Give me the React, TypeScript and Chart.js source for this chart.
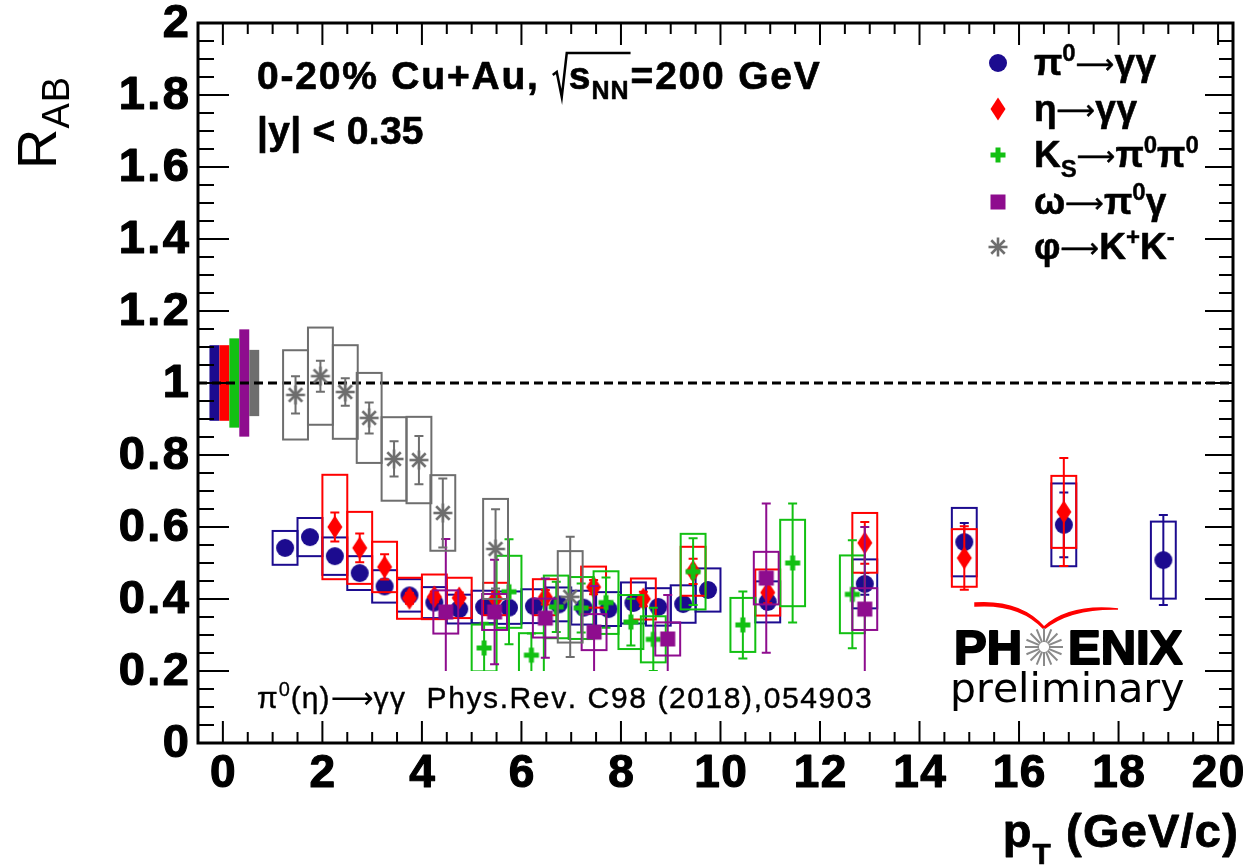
import React, { useEffect, useRef } from 'react';
import Chart from 'chart.js/auto';

const W = 1243;
const H = 866;
const SANS = '"Liberation Sans", Arial, Helvetica, sans-serif';
const WIDE = '"DejaVu Sans", "Liberation Sans", sans-serif';

// Axis ranges and tick labels
const xRange = [-0.5, 20.3];
const yRange = [0, 2];
const xTickValues = [0, 2, 4, 6, 8, 10, 12, 14, 16, 18, 20];
const xTickLabels = ['0', '2', '4', '6', '8', '10', '12', '14', '16', '18', '20'];
const yTickValues = [0, 0.2, 0.4, 0.6, 0.8, 1, 1.2, 1.4, 1.6, 1.8, 2];
const yTickLabels = ['0', '0.2', '0.4', '0.6', '0.8', '1', '1.2', '1.4', '1.6', '1.8', '2'];

// π0 → γγ
const pi0Pt = [1.25, 1.75, 2.25, 2.75, 3.25, 3.75, 4.25, 4.75, 5.25, 5.75, 6.25, 6.75, 7.25, 7.75, 8.25, 8.75, 9.25, 9.75, 10.95, 12.9, 14.9, 16.9, 18.9];
const pi0Raa = [0.542, 0.572, 0.519, 0.472, 0.435, 0.41, 0.39, 0.372, 0.378, 0.376, 0.38, 0.385, 0.376, 0.372, 0.389, 0.378, 0.386, 0.425, 0.392, 0.442, 0.558, 0.606, 0.508];
const pi0Stat = [0.01, 0.01, 0.01, 0.01, 0.01, 0.01, 0.01, 0.01, 0.01, 0.01, 0.01, 0.01, 0.01, 0.012, 0.012, 0.013, 0.015, 0.018, 0.02, 0.03, 0.053, 0.09, 0.125];
const pi0Sys = [0.047, 0.053, 0.052, 0.047, 0.045, 0.045, 0.043, 0.04, 0.045, 0.045, 0.047, 0.047, 0.047, 0.047, 0.057, 0.052, 0.052, 0.06, 0.057, 0.068, 0.095, 0.115, 0.107];

// η → γγ
const etaPt = [2.25, 2.75, 3.25, 3.75, 4.25, 4.75, 5.48, 6.48, 7.45, 8.45, 9.45, 10.95, 12.9, 14.9, 16.9];
const etaRaa = [0.6, 0.542, 0.489, 0.402, 0.406, 0.403, 0.4, 0.405, 0.433, 0.4, 0.477, 0.418, 0.556, 0.514, 0.642];
const etaStat = [0.04, 0.04, 0.035, 0.015, 0.015, 0.015, 0.02, 0.02, 0.02, 0.02, 0.035, 0.03, 0.058, 0.088, 0.15];
const etaSys = [0.145, 0.1, 0.07, 0.057, 0.062, 0.056, 0.045, 0.05, 0.057, 0.057, 0.068, 0.064, 0.083, 0.08, 0.1];

// K_S → π0π0
const ksPt = [5.25, 5.75, 6.2, 6.7, 7.2, 7.7, 8.2, 8.65, 9.45, 10.45, 11.45, 12.65];
const ksRaa = [0.264, 0.42, 0.244, 0.378, 0.375, 0.39, 0.336, 0.288, 0.476, 0.328, 0.5, 0.413];
const ksStat = [0.07, 0.146, 0.06, 0.07, 0.068, 0.07, 0.065, 0.088, 0.093, 0.093, 0.165, 0.15];
const ksSys = [0.065, 0.1, 0.061, 0.087, 0.086, 0.087, 0.075, 0.064, 0.105, 0.075, 0.12, 0.108];

// ω → π0γ
const omegaPt = [4.48, 5.46, 6.48, 7.46, 8.94, 10.92, 12.9];
const omegaRaa = [0.364, 0.364, 0.347, 0.308, 0.289, 0.458, 0.372];
const omegaStat = [0.203, 0.145, 0.11, 0.128, 0.122, 0.207, 0.228];
const omegaSys = [0.06, 0.05, 0.054, 0.05, 0.046, 0.073, 0.058];

// φ → K+K-
const phiPt = [1.46, 1.96, 2.46, 2.94, 3.44, 3.94, 4.42, 5.48, 6.98];
const phiRaa = [0.967, 1.019, 0.975, 0.903, 0.789, 0.786, 0.639, 0.539, 0.406];
const phiStat = [0.052, 0.043, 0.038, 0.043, 0.049, 0.067, 0.096, 0.11, 0.167];
const phiSys = [0.124, 0.135, 0.13, 0.125, 0.116, 0.12, 0.105, 0.139, 0.127];

// Global (normalisation) uncertainties drawn at R_AB = 1
const normCenters = [-0.17, 0.03, 0.23, 0.43, 0.63];
const normHalf = [0.105, 0.105, 0.124, 0.149, 0.092];

const NAVY = '#1c0b8f';
const RED = '#ff0000';
const GREEN = '#12c012';
const PURPLE = '#8e0c8e';
const GRAY = '#6e6e6e';
const normColors = [NAVY, RED, GREEN, PURPLE, GRAY];

const BOX_HALF = 0.25; // half width of systematic boxes in GeV/c
const CLIP_FLOOR = 0.2; // error bars and boxes are drawn down to this R_AB

type Kind = 'circle' | 'diamond' | 'cross' | 'square' | 'star';

function makeMarker(kind: Kind, color: string): HTMLCanvasElement {
  const c = document.createElement('canvas');
  const s = 26;
  c.width = s;
  c.height = s;
  const g = c.getContext('2d')!;
  const m = s / 2;
  g.fillStyle = color;
  g.strokeStyle = color;
  if (kind === 'circle') {
    g.beginPath();
    g.arc(m, m, 9, 0, Math.PI * 2);
    g.fill();
  } else if (kind === 'diamond') {
    g.beginPath();
    g.moveTo(m, m - 11.5);
    g.lineTo(m + 7.5, m);
    g.lineTo(m, m + 11.5);
    g.lineTo(m - 7.5, m);
    g.closePath();
    g.fill();
  } else if (kind === 'cross') {
    g.fillRect(m - 7.5, m - 2.5, 15, 5);
    g.fillRect(m - 2.5, m - 7.5, 5, 15);
  } else if (kind === 'square') {
    g.fillRect(m - 7.5, m - 7.5, 15, 15);
  } else {
    g.lineWidth = 2.6;
    const r = 9.5;
    for (let k = 0; k < 4; k++) {
      const a = (k * Math.PI) / 4;
      g.beginPath();
      g.moveTo(m - r * Math.cos(a), m - r * Math.sin(a));
      g.lineTo(m + r * Math.cos(a), m + r * Math.sin(a));
      g.stroke();
    }
  }
  return c;
}

type Series = {
  x: number[];
  y: number[];
  stat: number[];
  sys: number[];
  color: string;
  kind: Kind;
};

const series: Series[] = [
  { x: pi0Pt, y: pi0Raa, stat: pi0Stat, sys: pi0Sys, color: NAVY, kind: 'circle' },
  { x: etaPt, y: etaRaa, stat: etaStat, sys: etaSys, color: RED, kind: 'diamond' },
  { x: ksPt, y: ksRaa, stat: ksStat, sys: ksSys, color: GREEN, kind: 'cross' },
  { x: omegaPt, y: omegaRaa, stat: omegaStat, sys: omegaSys, color: PURPLE, kind: 'square' },
  { x: phiPt, y: phiRaa, stat: phiStat, sys: phiSys, color: GRAY, kind: 'star' },
];

type Run = { t: string; size: number; bold?: boolean; dy?: number; family?: string; sp?: number; heavy?: number };

function drawRuns(ctx: CanvasRenderingContext2D, runs: Run[], x: number, y: number): number {
  let cx = x;
  for (const r of runs) {
    ctx.font = `${r.bold ? 'bold ' : ''}${r.size}px ${r.family ?? SANS}`;
    const sp = r.sp ?? 0;
    for (const ch of Array.from(r.t)) {
      ctx.fillText(ch, cx, y + (r.dy ?? 0));
      if (r.heavy) {
        ctx.save();
        ctx.strokeStyle = ctx.fillStyle as string;
        ctx.lineWidth = r.heavy;
        ctx.lineJoin = 'round';
        ctx.strokeText(ch, cx, y + (r.dy ?? 0));
        ctx.restore();
      }
      cx += ctx.measureText(ch).width + sp;
    }
  }
  return cx;
}

function runsWidth(ctx: CanvasRenderingContext2D, runs: Run[]): number {
  let w = 0;
  for (const r of runs) {
    ctx.font = `${r.bold ? 'bold ' : ''}${r.size}px ${r.family ?? SANS}`;
    const chars = Array.from(r.t);
    for (const ch of chars) w += ctx.measureText(ch).width + (r.sp ?? 0);
  }
  return w;
}

const errorPlugin = {
  id: 'errorBoxes',
  beforeDatasetDraw(chart: any, args: any) {
    const s = series[args.index];
    if (!s) return;
    const { ctx, chartArea, scales } = chart;
    const xs = scales.x;
    const ys = scales.y;
    ctx.save();
    const floor = ys.getPixelForValue(CLIP_FLOOR);
    ctx.beginPath();
    ctx.rect(chartArea.left, chartArea.top, chartArea.right - chartArea.left, floor - chartArea.top);
    ctx.clip();
    ctx.strokeStyle = s.color;
    ctx.lineWidth = 2;
    for (let i = 0; i < s.x.length; i++) {
      const l = xs.getPixelForValue(s.x[i] - BOX_HALF);
      const r = xs.getPixelForValue(s.x[i] + BOX_HALF);
      const t = ys.getPixelForValue(s.y[i] + s.sys[i]);
      const b = ys.getPixelForValue(s.y[i] - s.sys[i]);
      ctx.strokeRect(l, t, r - l, b - t);
    }
    for (let i = 0; i < s.x.length; i++) {
      const px = xs.getPixelForValue(s.x[i]);
      const et = ys.getPixelForValue(s.y[i] + s.stat[i]);
      const eb = ys.getPixelForValue(s.y[i] - s.stat[i]);
      ctx.beginPath();
      ctx.moveTo(px, et);
      ctx.lineTo(px, eb);
      ctx.moveTo(px - 4.5, et);
      ctx.lineTo(px + 4.5, et);
      ctx.moveTo(px - 4.5, eb);
      ctx.lineTo(px + 4.5, eb);
      ctx.stroke();
    }
    ctx.restore();
  },
};

const framePlugin = {
  id: 'rootFrame',
  beforeDatasetsDraw(chart: any) {
    const { ctx, chartArea, scales } = chart;
    const xs = scales.x;
    const ys = scales.y;
    ctx.save();
    // global normalisation bars
    for (let i = 0; i < normCenters.length; i++) {
      const l = xs.getPixelForValue(normCenters[i] - 0.1);
      const r = xs.getPixelForValue(normCenters[i] + 0.1);
      const t = ys.getPixelForValue(1 + normHalf[i]);
      const b = ys.getPixelForValue(1 - normHalf[i]);
      ctx.fillStyle = normColors[i];
      ctx.fillRect(l, t, r - l, b - t);
    }
    // reference line at unity
    const y1 = ys.getPixelForValue(1);
    ctx.strokeStyle = '#000';
    ctx.lineWidth = 3;
    ctx.setLineDash([9, 5]);
    ctx.beginPath();
    ctx.moveTo(chartArea.left, y1);
    ctx.lineTo(chartArea.right, y1);
    ctx.stroke();
    ctx.restore();
  },
  afterDraw(chart: any) {
    const { ctx, chartArea, scales } = chart;
    const xs = scales.x;
    const ys = scales.y;
    const { left, right, top, bottom } = chartArea;
    ctx.save();
    ctx.fillStyle = '#000';
    ctx.strokeStyle = '#000';

    // ticks
    ctx.lineWidth = 2;
    ctx.beginPath();
    for (let i = 0; i < yTickValues.length; i++) {
      const v0 = yTickValues[i];
      const py = ys.getPixelForValue(v0);
      ctx.moveTo(left, py);
      ctx.lineTo(left + 31, py);
      ctx.moveTo(right, py);
      ctx.lineTo(right - 28, py);
      if (i < yTickValues.length - 1) {
        const step = (yTickValues[i + 1] - v0) / 4;
        for (let k = 1; k < 4; k++) {
          const pm = ys.getPixelForValue(v0 + k * step);
          ctx.moveTo(left, pm);
          ctx.lineTo(left + 16, pm);
          ctx.moveTo(right, pm);
          ctx.lineTo(right - 14, pm);
        }
      }
    }
    const xMinor: number[] = [];
    for (let i = 0; i < xTickValues.length; i++) {
      const v0 = xTickValues[i];
      const px = xs.getPixelForValue(v0);
      ctx.moveTo(px, bottom);
      ctx.lineTo(px, bottom - 22);
      ctx.moveTo(px, top);
      ctx.lineTo(px, top + 22);
      const step = 0.5;
      xMinor.push(v0 - step, v0 + step, v0 + 2 * step, v0 + 3 * step);
    }
    for (const v of xMinor) {
      if (v <= xRange[0] || v >= xRange[1] || xTickValues.includes(v)) continue;
      const px = xs.getPixelForValue(v);
      ctx.moveTo(px, bottom);
      ctx.lineTo(px, bottom - 11);
      ctx.moveTo(px, top);
      ctx.lineTo(px, top + 11);
    }
    ctx.stroke();

    // frame
    ctx.lineWidth = 3;
    ctx.strokeRect(left, top, right - left, bottom - top);

    // tick labels
    ctx.textBaseline = 'middle';
    for (let i = 0; i < yTickValues.length; i++) {
      const py = ys.getPixelForValue(yTickValues[i]);
      const runs: Run[] = [{ t: yTickLabels[i], size: 47, bold: true, sp: 2.5, heavy: 1.2 }];
      const w = runsWidth(ctx, runs) - 2.5;
      drawRuns(ctx, runs, 189 - w, py + 1);
    }
    for (let i = 0; i < xTickValues.length; i++) {
      const px = xs.getPixelForValue(xTickValues[i]);
      const runs: Run[] = [{ t: xTickLabels[i], size: 46, bold: true, sp: 1.5, heavy: 1.2 }];
      const w = runsWidth(ctx, runs) - 1.5;
      drawRuns(ctx, runs, px - w / 2, 774);
    }

    ctx.textBaseline = 'alphabetic';
    // x axis title
    {
      const runs: Run[] = [
        { t: 'p', size: 47, bold: true, sp: 1, heavy: 0.8 },
        { t: 'T', size: 30, bold: true, dy: 17, sp: 1, heavy: 0.6 },
        { t: ' (GeV/c)', size: 47, bold: true, sp: 1.2, heavy: 0.8 },
      ];
      const w = runsWidth(ctx, runs);
      drawRuns(ctx, runs, 1239 - w, 847);
    }
    // y axis title, rotated
    {
      ctx.save();
      ctx.translate(56, 169);
      ctx.rotate(-Math.PI / 2);
      drawRuns(ctx, [{ t: 'R', size: 56 }, { t: 'AB', size: 38, dy: 13, sp: 1 }], 0, 0);
      ctx.restore();
    }

    // collision system
    {
      let cx = drawRuns(ctx, [{ t: '0-20% Cu+Au,', size: 39, bold: true, sp: 1.8, heavy: 0.7 }], 257, 89);
      cx += 13;
      ctx.lineWidth = 2.5;
      ctx.beginPath();
      ctx.moveTo(cx, 75);
      ctx.lineTo(cx + 4, 72);
      ctx.lineTo(cx + 9, 97);
      ctx.lineTo(cx + 14, 53);
      const sx = cx + 16;
      const endS = drawRuns(ctx, [{ t: 's', size: 39, bold: true, heavy: 0.7 }], sx, 89);
      const endNN = drawRuns(ctx, [{ t: 'NN', size: 25, bold: true, dy: 10, sp: 1, heavy: 0.5 }], endS + 1, 89);
      ctx.lineTo(endNN + 1, 53);
      ctx.stroke();
      drawRuns(ctx, [{ t: '=200 GeV', size: 39, bold: true, sp: 1.8, heavy: 0.7 }], endNN + 1, 89);
    }
    drawRuns(ctx, [{ t: '|y| < 0.35', size: 39, bold: true, sp: 0.3, heavy: 0.7 }], 257, 144);

    // publication reference
    drawRuns(
      ctx,
      [
        { t: 'π', size: 30, sp: 1, heavy: 0.4 },
        { t: '0', size: 20, dy: -12, sp: 1, heavy: 0.3 },
        { t: '(η)', size: 30, sp: 1, heavy: 0.4 },
        { t: '⟶', size: 30, family: WIDE },
        { t: 'γγ  Phys.Rev. C98 (2018),054903', size: 30, sp: 1.6, heavy: 0.4 },
      ],
      257,
      708,
    );

    // legend
    const arrow: Run = { t: '⟶', size: 27, family: WIDE, dy: -2, heavy: 0.5 };
    const rows: { y: number; kind: Kind; color: string; runs: Run[] }[] = [
      { y: 63, kind: 'circle', color: NAVY, runs: [
        { t: 'π', size: 37, bold: true, heavy: 0.6 }, { t: '0', size: 24, bold: true, dy: -14, heavy: 0.4 },
        arrow, { t: 'γγ', size: 37, bold: true, sp: 0.5, heavy: 0.6 }] },
      { y: 109, kind: 'diamond', color: RED, runs: [
        { t: 'η', size: 37, bold: true, heavy: 0.6 }, arrow,
        { t: 'γγ', size: 37, bold: true, sp: 0.5, heavy: 0.6 }] },
      { y: 155, kind: 'cross', color: GREEN, runs: [
        { t: 'K', size: 37, bold: true, heavy: 0.6 }, { t: 'S', size: 24, bold: true, dy: 10, heavy: 0.4 },
        arrow, { t: 'π', size: 37, bold: true, heavy: 0.6 },
        { t: '0', size: 24, bold: true, dy: -14, heavy: 0.4 }, { t: 'π', size: 37, bold: true, heavy: 0.6 },
        { t: '0', size: 24, bold: true, dy: -14, heavy: 0.4 }] },
      { y: 202, kind: 'square', color: PURPLE, runs: [
        { t: 'ω', size: 37, bold: true, heavy: 0.6 }, arrow,
        { t: 'π', size: 37, bold: true, heavy: 0.6 }, { t: '0', size: 24, bold: true, dy: -14, heavy: 0.4 },
        { t: 'γ', size: 37, bold: true, heavy: 0.6 }] },
      { y: 247, kind: 'star', color: GRAY, runs: [
        { t: 'φ', size: 37, bold: true, heavy: 0.6 }, arrow,
        { t: 'K', size: 37, bold: true, heavy: 0.6 }, { t: '+', size: 24, bold: true, dy: -14, heavy: 0.4 },
        { t: 'K', size: 37, bold: true, heavy: 0.6 }, { t: '-', size: 24, bold: true, dy: -14, heavy: 0.4 }] },
    ];
    for (const row of rows) {
      const img = makeMarker(row.kind, row.color);
      ctx.drawImage(img, 998 - img.width / 2, row.y - img.height / 2);
      drawRuns(ctx, row.runs, 1034, row.y + 12);
    }

    // experiment logo
    ctx.strokeStyle = RED;
    ctx.fillStyle = RED;
    ctx.beginPath();
    ctx.moveTo(975, 603);
    ctx.quadraticCurveTo(1020, 600, 1044, 627);
    ctx.quadraticCurveTo(1070, 604, 1118, 609);
    ctx.quadraticCurveTo(1070, 608, 1044, 629);
    ctx.quadraticCurveTo(1020, 603, 975, 606);
    ctx.closePath();
    ctx.fill();
    ctx.lineWidth = 1.5;
    ctx.stroke();

    ctx.fillStyle = '#000';
    drawRuns(ctx, [{ t: 'PH', size: 49, bold: true, sp: 0, heavy: 2 }], 954, 664);
    drawRuns(ctx, [{ t: 'ENIX', size: 49, bold: true, sp: 0, heavy: 2 }], 1068, 664);
    ctx.strokeStyle = '#8a8a8a';
    ctx.lineWidth = 2;
    for (let k = 0; k < 16; k++) {
      const a = (k * Math.PI) / 8;
      ctx.beginPath();
      ctx.moveTo(1044 + 5 * Math.cos(a), 647 + 5 * Math.sin(a));
      ctx.lineTo(1044 + 19 * Math.cos(a), 647 + 19 * Math.sin(a));
      ctx.stroke();
    }
    drawRuns(ctx, [{ t: 'preliminary', size: 41, family: WIDE }], 950, 702);

    ctx.restore();
  },
};

export default function App() {
  const ref = useRef<HTMLCanvasElement | null>(null);
  useEffect(() => {
    const canvas = ref.current;
    if (!canvas) return;
    const markers = series.map((s) => makeMarker(s.kind, s.color));
    const chart = new Chart(canvas, {
      type: 'scatter',
      data: {
        datasets: series.map((s, i) => ({
          label: ['pi0', 'eta', 'KS', 'omega', 'phi'][i],
          data: s.x.map((x, k) => ({ x, y: s.y[k] })),
          pointStyle: markers[i] as any,
          pointRadius: 9,
          backgroundColor: s.color,
          borderColor: s.color,
          order: series.length - i,
        })),
      },
      options: {
        animation: false,
        responsive: false,
        maintainAspectRatio: false,
        devicePixelRatio: 1,
        layout: { padding: { left: 198, right: 5, top: 23, bottom: 123 } },
        scales: {
          x: { type: 'linear', min: xRange[0], max: xRange[1], display: false },
          y: { type: 'linear', min: yRange[0], max: yRange[1], display: false },
        },
        plugins: { legend: { display: false }, tooltip: { enabled: false } },
        events: [],
      },
      plugins: [framePlugin, errorPlugin],
    });
    return () => chart.destroy();
  }, []);
  return (
    <div style={{ position: 'absolute', left: 0, top: 0, width: W, height: H, background: '#fff' }}>
      <canvas ref={ref} width={W} height={H} style={{ width: W, height: H, display: 'block' }} />
    </div>
  );
}
